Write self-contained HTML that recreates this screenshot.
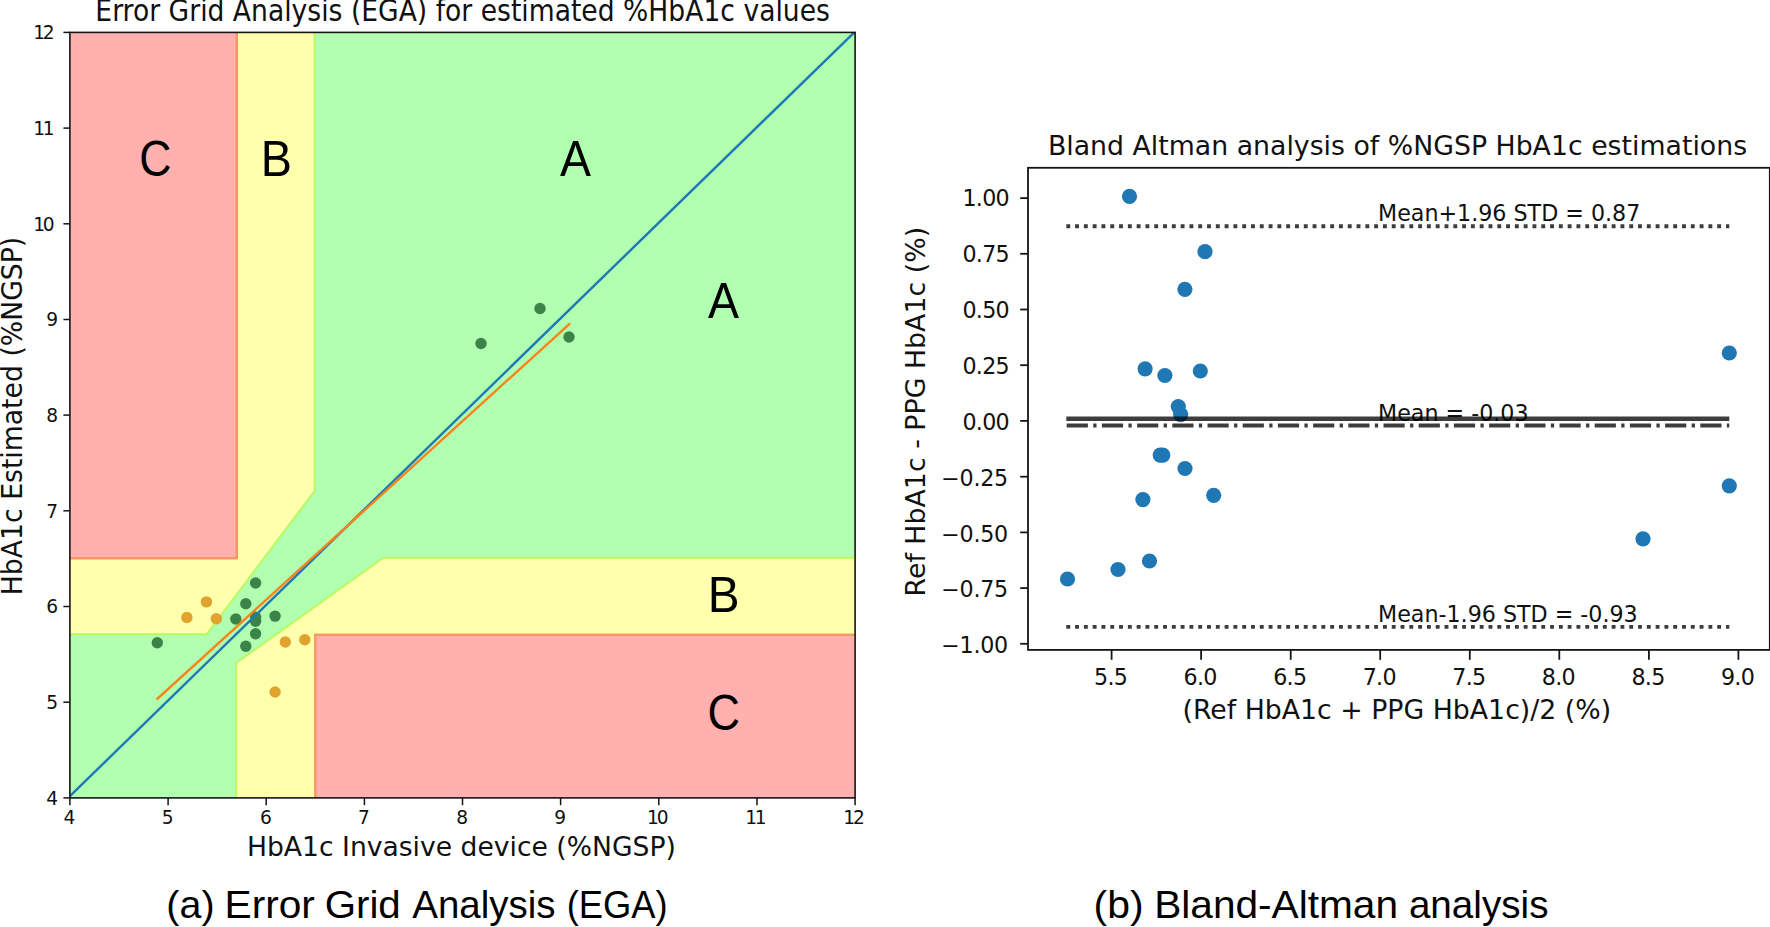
<!DOCTYPE html>
<html lang="en"><head><meta charset="utf-8"><title>EGA and Bland-Altman analysis</title>
<style>html,body{margin:0;padding:0;background:#fff;}body{width:1770px;height:927px;overflow:hidden;}svg{display:block;}.dv{font-family:"DejaVu Sans","Liberation Sans",sans-serif;fill:#111;}.cal{font-family:"Liberation Sans","DejaVu Sans",sans-serif;fill:#000;}</style></head><body>
<svg width="1770" height="927" viewBox="0 0 1770 927">
<rect x="0" y="0" width="1770" height="927" fill="#ffffff"/>
<g id="ega">
<clipPath id="cl"><rect x="69.9" y="32.4" width="785.2" height="765.5"/></clipPath>
<g clip-path="url(#cl)">
<rect x="69.9" y="32.4" width="785.2" height="765.5" fill="#ffffae"/>
<g transform="translate(-0.6,-0.9)">
<polygon points="236.8,817.0 236.8,663.9 384.0,558.7 874.7,558.7 874.7,13.3 315.3,13.3 315.3,491.7 207.3,635.2 50.3,635.2 50.3,817.0" fill="#b1ffb0" stroke="#b9f962" stroke-width="2" stroke-linejoin="miter"/>
<rect transform="translate(0.6,0.5)" x="50.3" y="13.3" width="186.5" height="545.4" fill="#ffb0af" stroke="#f99562" stroke-width="2.4"/>
<rect transform="translate(0.6,0.5)" x="315.3" y="635.2" width="559.5" height="181.8" fill="#ffb0af" stroke="#f99562" stroke-width="2.4"/>
</g>
<circle cx="157.3" cy="642.8" r="5.7" fill="#3b8449"/>
<circle cx="255.6" cy="583.0" r="5.7" fill="#3b8449"/>
<circle cx="245.8" cy="603.7" r="5.7" fill="#3b8449"/>
<circle cx="235.8" cy="619.0" r="5.7" fill="#3b8449"/>
<circle cx="255.6" cy="617.3" r="5.7" fill="#3b8449"/>
<circle cx="255.6" cy="621.2" r="5.7" fill="#3b8449"/>
<circle cx="275.1" cy="616.1" r="5.7" fill="#3b8449"/>
<circle cx="255.6" cy="633.7" r="5.7" fill="#3b8449"/>
<circle cx="245.8" cy="646.3" r="5.7" fill="#3b8449"/>
<circle cx="481" cy="343.5" r="5.7" fill="#3b8449"/>
<circle cx="540" cy="308.5" r="5.7" fill="#3b8449"/>
<circle cx="569" cy="337" r="5.7" fill="#3b8449"/>
<circle cx="206.4" cy="601.9" r="5.7" fill="#e0a42e"/>
<circle cx="186.9" cy="617.5" r="5.7" fill="#e0a42e"/>
<circle cx="216.3" cy="618.7" r="5.7" fill="#e0a42e"/>
<circle cx="285.3" cy="642.0" r="5.7" fill="#e0a42e"/>
<circle cx="304.8" cy="639.7" r="5.7" fill="#e0a42e"/>
<circle cx="275.1" cy="692.0" r="5.7" fill="#e0a42e"/>
<line x1="69.9" y1="796.1" x2="855.1" y2="31.6" stroke="#1f77b4" stroke-width="2.4"/>
<line x1="156.6" y1="699.5" x2="570.1" y2="323.3" stroke="#f6841e" stroke-width="2.4"/>
</g>
<text class="cal" transform="translate(139.23,175.7) scale(0.8982,1)" font-size="49.6">C</text>
<text class="cal" transform="translate(260.76,175.5) scale(0.9436,1)" font-size="49.6">B</text>
<text class="cal" transform="translate(560.11,175.8) scale(0.9366,1)" font-size="49.6">A</text>
<text class="cal" transform="translate(708.01,318.2) scale(0.9366,1)" font-size="49.6">A</text>
<text class="cal" transform="translate(707.78,611.9) scale(0.9626,1)" font-size="49.6">B</text>
<text class="cal" transform="translate(707.50,730.2) scale(0.9077,1)" font-size="49.6">C</text>
<rect x="69.9" y="32.4" width="785.2" height="765.5" fill="none" stroke="#151515" stroke-width="1.6"/>
<line x1="69.9" y1="797.9" x2="69.9" y2="805.2" stroke="#151515" stroke-width="1.5"/>
<line x1="69.9" y1="797.9" x2="63.4" y2="797.9" stroke="#151515" stroke-width="1.5"/>
<text class="dv" x="69.5" y="823.7" font-size="18.6" text-anchor="middle">4</text>
<text class="dv" x="58.0" y="804.8" font-size="18.6" text-anchor="end">4</text>
<line x1="168.1" y1="797.9" x2="168.1" y2="805.2" stroke="#151515" stroke-width="1.5"/>
<line x1="69.9" y1="702.2" x2="63.4" y2="702.2" stroke="#151515" stroke-width="1.5"/>
<text class="dv" x="167.7" y="823.7" font-size="18.6" text-anchor="middle">5</text>
<text class="dv" x="58.0" y="709.1" font-size="18.6" text-anchor="end">5</text>
<line x1="266.2" y1="797.9" x2="266.2" y2="805.2" stroke="#151515" stroke-width="1.5"/>
<line x1="69.9" y1="606.5" x2="63.4" y2="606.5" stroke="#151515" stroke-width="1.5"/>
<text class="dv" x="265.8" y="823.7" font-size="18.6" text-anchor="middle">6</text>
<text class="dv" x="58.0" y="613.4" font-size="18.6" text-anchor="end">6</text>
<line x1="364.4" y1="797.9" x2="364.4" y2="805.2" stroke="#151515" stroke-width="1.5"/>
<line x1="69.9" y1="510.8" x2="63.4" y2="510.8" stroke="#151515" stroke-width="1.5"/>
<text class="dv" x="364.0" y="823.7" font-size="18.6" text-anchor="middle">7</text>
<text class="dv" x="58.0" y="517.7" font-size="18.6" text-anchor="end">7</text>
<line x1="462.5" y1="797.9" x2="462.5" y2="805.2" stroke="#151515" stroke-width="1.5"/>
<line x1="69.9" y1="415.1" x2="63.4" y2="415.1" stroke="#151515" stroke-width="1.5"/>
<text class="dv" x="462.1" y="823.7" font-size="18.6" text-anchor="middle">8</text>
<text class="dv" x="58.0" y="422.0" font-size="18.6" text-anchor="end">8</text>
<line x1="560.6" y1="797.9" x2="560.6" y2="805.2" stroke="#151515" stroke-width="1.5"/>
<line x1="69.9" y1="319.5" x2="63.4" y2="319.5" stroke="#151515" stroke-width="1.5"/>
<text class="dv" x="560.2" y="823.7" font-size="18.6" text-anchor="middle">9</text>
<text class="dv" x="58.0" y="326.4" font-size="18.6" text-anchor="end">9</text>
<line x1="658.8" y1="797.9" x2="658.8" y2="805.2" stroke="#151515" stroke-width="1.5"/>
<line x1="69.9" y1="223.8" x2="63.4" y2="223.8" stroke="#151515" stroke-width="1.5"/>
<text class="dv" x="647.0" y="823.7" font-size="18.6" letter-spacing="-2.2">10</text>
<text class="dv" x="33.2" y="230.7" font-size="18.6" letter-spacing="-2.2">10</text>
<line x1="757.0" y1="797.9" x2="757.0" y2="805.2" stroke="#151515" stroke-width="1.5"/>
<line x1="69.9" y1="128.1" x2="63.4" y2="128.1" stroke="#151515" stroke-width="1.5"/>
<text class="dv" x="745.2" y="823.7" font-size="18.6" letter-spacing="-2.2">11</text>
<text class="dv" x="33.2" y="135.0" font-size="18.6" letter-spacing="-2.2">11</text>
<line x1="855.1" y1="797.9" x2="855.1" y2="805.2" stroke="#151515" stroke-width="1.5"/>
<line x1="69.9" y1="32.4" x2="63.4" y2="32.4" stroke="#151515" stroke-width="1.5"/>
<text class="dv" x="843.3" y="823.7" font-size="18.6" letter-spacing="-2.2">12</text>
<text class="dv" x="33.2" y="39.3" font-size="18.6" letter-spacing="-2.2">12</text>
<text class="dv" transform="translate(462.6,20.5) scale(1,1.11)" font-size="26.6" text-anchor="middle">Error Grid Analysis (EGA) for estimated %HbA1c values</text>
<text class="dv" x="461.4" y="856.4" font-size="26.6" text-anchor="middle">HbA1c Invasive device (%NGSP)</text>
<text class="dv" transform="translate(21.5,416) rotate(-90) scale(1,1.04)" font-size="26.7" text-anchor="middle">HbA1c Estimated (%NGSP)</text>
</g>
<g id="ba">
<circle cx="1129.5" cy="196.4" r="7.6" fill="#1f77b4"/>
<circle cx="1205" cy="251.6" r="7.6" fill="#1f77b4"/>
<circle cx="1184.9" cy="289.3" r="7.6" fill="#1f77b4"/>
<circle cx="1145.1" cy="368.8" r="7.6" fill="#1f77b4"/>
<circle cx="1164.9" cy="375.5" r="7.6" fill="#1f77b4"/>
<circle cx="1200.3" cy="371.0" r="7.6" fill="#1f77b4"/>
<circle cx="1178.3" cy="406.6" r="7.6" fill="#1f77b4"/>
<circle cx="1180.7" cy="414.6" r="7.6" fill="#1f77b4"/>
<circle cx="1160.2" cy="455.1" r="7.6" fill="#1f77b4"/>
<circle cx="1162.8" cy="455.1" r="7.6" fill="#1f77b4"/>
<circle cx="1185.0" cy="468.5" r="7.6" fill="#1f77b4"/>
<circle cx="1142.9" cy="499.6" r="7.6" fill="#1f77b4"/>
<circle cx="1213.7" cy="495.3" r="7.6" fill="#1f77b4"/>
<circle cx="1729.3" cy="353" r="7.6" fill="#1f77b4"/>
<circle cx="1729.3" cy="485.8" r="7.6" fill="#1f77b4"/>
<circle cx="1643" cy="538.8" r="7.6" fill="#1f77b4"/>
<circle cx="1149.5" cy="561" r="7.6" fill="#1f77b4"/>
<circle cx="1118" cy="569.5" r="7.6" fill="#1f77b4"/>
<circle cx="1067.5" cy="579" r="7.6" fill="#1f77b4"/>
<text class="dv" x="1378.0" y="221.4" font-size="22.2">Mean+1.96 STD = 0.87</text>
<text class="dv" x="1378.0" y="420.6" font-size="22.2">Mean = -0.03</text>
<text class="dv" x="1378.0" y="621.9" font-size="22.2">Mean-1.96 STD = -0.93</text>
<g stroke="#000" stroke-opacity="0.76" fill="none">
<line x1="1066.3" y1="418.8" x2="1729.3" y2="418.8" stroke-width="4.4"/>
<line x1="1066.7" y1="425.5" x2="1729.3" y2="425.5" stroke-width="4.2" stroke-dasharray="21.2 5.35 3.3 5.35"/>
<line x1="1066.3" y1="226.2" x2="1729.3" y2="226.2" stroke-width="3.9" stroke-dasharray="3.9 4.896"/>
<line x1="1066.3" y1="626.9" x2="1729.3" y2="626.9" stroke-width="3.9" stroke-dasharray="3.9 4.896"/>
</g>
<rect x="1028.0" y="167.8" width="741.8" height="482.1" fill="none" stroke="#151515" stroke-width="1.8"/>
<line x1="1111.6" y1="649.9" x2="1111.6" y2="659.8" stroke="#151515" stroke-width="1.8"/>
<text class="dv" x="1110.7" y="684.5" font-size="22.2" letter-spacing="-0.7" text-anchor="middle">5.5</text>
<line x1="1201.1" y1="649.9" x2="1201.1" y2="659.8" stroke="#151515" stroke-width="1.8"/>
<text class="dv" x="1200.2" y="684.5" font-size="22.2" letter-spacing="-0.7" text-anchor="middle">6.0</text>
<line x1="1290.7" y1="649.9" x2="1290.7" y2="659.8" stroke="#151515" stroke-width="1.8"/>
<text class="dv" x="1289.8" y="684.5" font-size="22.2" letter-spacing="-0.7" text-anchor="middle">6.5</text>
<line x1="1380.2" y1="649.9" x2="1380.2" y2="659.8" stroke="#151515" stroke-width="1.8"/>
<text class="dv" x="1379.3" y="684.5" font-size="22.2" letter-spacing="-0.7" text-anchor="middle">7.0</text>
<line x1="1469.8" y1="649.9" x2="1469.8" y2="659.8" stroke="#151515" stroke-width="1.8"/>
<text class="dv" x="1468.9" y="684.5" font-size="22.2" letter-spacing="-0.7" text-anchor="middle">7.5</text>
<line x1="1559.3" y1="649.9" x2="1559.3" y2="659.8" stroke="#151515" stroke-width="1.8"/>
<text class="dv" x="1558.4" y="684.5" font-size="22.2" letter-spacing="-0.7" text-anchor="middle">8.0</text>
<line x1="1648.9" y1="649.9" x2="1648.9" y2="659.8" stroke="#151515" stroke-width="1.8"/>
<text class="dv" x="1648.0" y="684.5" font-size="22.2" letter-spacing="-0.7" text-anchor="middle">8.5</text>
<line x1="1738.4" y1="649.9" x2="1738.4" y2="659.8" stroke="#151515" stroke-width="1.8"/>
<text class="dv" x="1737.5" y="684.5" font-size="22.2" letter-spacing="-0.7" text-anchor="middle">9.0</text>
<line x1="1028.0" y1="198.1" x2="1020.2" y2="198.1" stroke="#151515" stroke-width="1.8"/>
<text class="dv" x="1009.0" y="205.7" font-size="22.2" letter-spacing="-0.7" text-anchor="end">1.00</text>
<line x1="1028.0" y1="253.8" x2="1020.2" y2="253.8" stroke="#151515" stroke-width="1.8"/>
<text class="dv" x="1009.0" y="261.7" font-size="22.2" letter-spacing="-0.7" text-anchor="end">0.75</text>
<line x1="1028.0" y1="309.5" x2="1020.2" y2="309.5" stroke="#151515" stroke-width="1.8"/>
<text class="dv" x="1009.0" y="317.6" font-size="22.2" letter-spacing="-0.7" text-anchor="end">0.50</text>
<line x1="1028.0" y1="365.2" x2="1020.2" y2="365.2" stroke="#151515" stroke-width="1.8"/>
<text class="dv" x="1009.0" y="373.6" font-size="22.2" letter-spacing="-0.7" text-anchor="end">0.25</text>
<line x1="1028.0" y1="420.9" x2="1020.2" y2="420.9" stroke="#151515" stroke-width="1.8"/>
<text class="dv" x="1009.0" y="429.6" font-size="22.2" letter-spacing="-0.7" text-anchor="end">0.00</text>
<line x1="1028.0" y1="476.7" x2="1020.2" y2="476.7" stroke="#151515" stroke-width="1.8"/>
<text class="dv" x="1007.8" y="485.5" font-size="22.2" letter-spacing="-0.3" text-anchor="end">−0.25</text>
<line x1="1028.0" y1="532.4" x2="1020.2" y2="532.4" stroke="#151515" stroke-width="1.8"/>
<text class="dv" x="1007.8" y="541.5" font-size="22.2" letter-spacing="-0.3" text-anchor="end">−0.50</text>
<line x1="1028.0" y1="588.1" x2="1020.2" y2="588.1" stroke="#151515" stroke-width="1.8"/>
<text class="dv" x="1007.8" y="597.4" font-size="22.2" letter-spacing="-0.3" text-anchor="end">−0.75</text>
<line x1="1028.0" y1="643.8" x2="1020.2" y2="643.8" stroke="#151515" stroke-width="1.8"/>
<text class="dv" x="1007.8" y="653.4" font-size="22.2" letter-spacing="-0.3" text-anchor="end">−1.00</text>
<text class="dv" x="1397.5" y="155" font-size="26.75" text-anchor="middle">Bland Altman analysis of %NGSP HbA1c estimations</text>
<text class="dv" x="1396.8" y="719" font-size="26.75" text-anchor="middle">(Ref HbA1c + PPG HbA1c)/2 (%)</text>
<text class="dv" transform="translate(924.6,411.7) rotate(-90)" font-size="26.8" text-anchor="middle">Ref HbA1c - PPG HbA1c (%)</text>
</g>
<g id="cap-a">
<text class="cal" transform="translate(166.36,918.2) scale(1.0112,1)" font-size="39.0">(a)</text>
<text class="cal" transform="translate(224.57,918.2) scale(1.0423,1)" font-size="39.0">Error</text>
<text class="cal" transform="translate(324.69,918.2) scale(1.0329,1)" font-size="39.0">Grid</text>
<text class="cal" transform="translate(412.22,918.2) scale(0.9871,1)" font-size="39.0">Analysis</text>
<text class="cal" transform="translate(566.75,918.2) scale(0.9323,1)" font-size="39.0">(EGA)</text>
</g>
<g id="cap-b">
<text class="cal" transform="translate(1093.56,918.3) scale(1.0485,1)" font-size="39.0">(b)</text>
<text class="cal" transform="translate(1154.17,918.3) scale(1.0421,1)" font-size="39.0">Bland-Altman</text>
<text class="cal" transform="translate(1408.88,918.3) scale(0.9908,1)" font-size="39.0">analysis</text>
</g>
</svg></body></html>
